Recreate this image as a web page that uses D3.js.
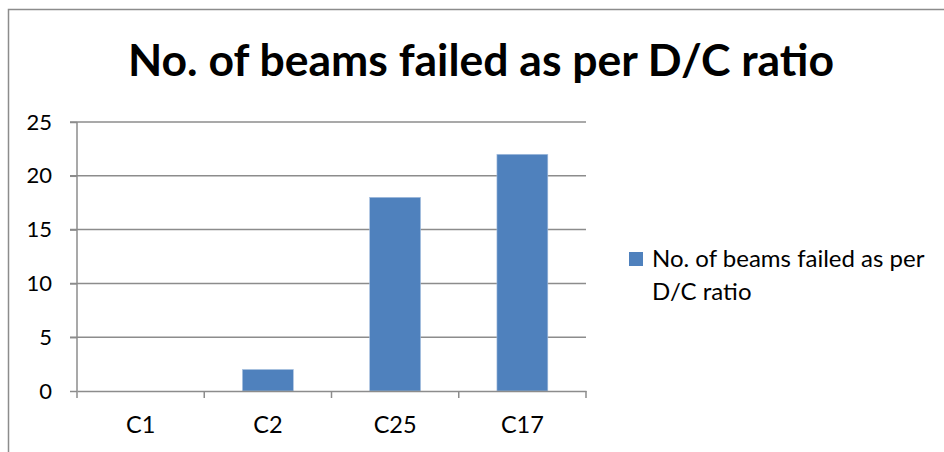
<!DOCTYPE html>
<html>
<head>
<meta charset="utf-8">
<script src="https://cdn.jsdelivr.net/npm/d3@7"></script>
<style>
  body { margin: 0; background: #fff; }
  text { font-family: Lato, "Open Sans", sans-serif; fill: #000; }
</style>
</head>
<body>
<svg class="chart" width="944" height="452"></svg>
<script>
let categories = ["C1", "C2", "C25", "C17"];
let values = [0, 2, 18, 22];
let yTicks = [0, 5, 10, 15, 20, 25];
let seriesName = "No. of beams failed as per D/C ratio";
let legendLines = ["No. of beams failed as per", "D/C ratio"];

let svg = d3.select("svg.chart"),
    margin = {top: 122, bottom: 61, left: 77, right: 358},
    width = svg.attr("width") - margin.left - margin.right,
    height = svg.attr("height") - margin.top - margin.bottom;

// chart border (runs off the right and bottom edge)
svg.append("rect")
    .attr("x", 8.5)
    .attr("y", 9.5)
    .attr("width", 1000)
    .attr("height", 1000)
    .attr("fill", "none")
    .attr("stroke", "#8c8c8c")
    .attr("stroke-width", 1.5);

let g = svg.append("g")
    .attr("transform", "translate(" + margin.left + "," + margin.top + ")");

let xScale = d3.scaleBand()
    .range([0, width])
    .domain(categories)
    .paddingInner(0.6)
    .paddingOuter(0.3);
let yScale = d3.scaleLinear()
    .range([height, 0])
    .domain([0, 25]);

// title
svg.append("text")
    .attr("x", 481)
    .attr("y", 76)
    .attr("text-anchor", "middle")
    .attr("font-size", "44.5px")
    .attr("font-weight", "bold")
    .text(seriesName);

// gridlines
g.selectAll(".grid")
    .data(yTicks.filter(d => d > 0))
    .join("line")
    .attr("class", "grid")
    .attr("x1", -7)
    .attr("x2", width)
    .attr("y1", d => yScale(d))
    .attr("y2", d => yScale(d))
    .attr("stroke", "#8c8c8c")
    .attr("stroke-width", 1.5);

// y axis
let yAxis = g.append("g")
    .call(d3.axisLeft(yScale).tickValues(yTicks).tickSize(7).tickPadding(18));
yAxis.selectAll("text")
    .attr("font-size", "22px")
    .attr("font-family", "Lato, sans-serif");

// x axis
let xAxis = g.append("g")
    .attr("transform", "translate(0," + height + ")")
    .call(d3.axisBottom(xScale).tickSize(0).tickPadding(25));
xAxis.selectAll("text")
    .attr("font-size", "23.5px")
    .attr("font-family", "Lato, sans-serif");
// category boundary ticks
xAxis.selectAll(".bound")
    .data(d3.range(categories.length + 1))
    .join("line")
    .attr("class", "bound")
    .attr("x1", i => i * xScale.step())
    .attr("x2", i => i * xScale.step())
    .attr("y1", 0)
    .attr("y2", 7)
    .attr("stroke", "#8c8c8c")
    .attr("stroke-width", 1.5);

svg.selectAll(".domain, .tick line")
    .attr("stroke", "#8c8c8c")
    .attr("stroke-width", 1.5);
yAxis.select(".domain").attr("d", "M0," + height + "V0");

// bars
g.selectAll(".bar")
    .data(values)
    .join("rect")
    .attr("class", "bar")
    .attr("x", (d, i) => xScale(categories[i]))
    .attr("y", d => yScale(d))
    .attr("width", xScale.bandwidth())
    .attr("height", d => height - yScale(d))
    .attr("fill", "#4f81bd")
    .attr("stroke", "#a9c1e0")
    .attr("stroke-width", 0.6);

xAxis.raise();

// legend
let legend = svg.append("g")
    .attr("transform", "translate(629,252)");
legend.append("rect")
    .attr("width", 14)
    .attr("height", 14)
    .attr("fill", "#4f81bd");
legend.selectAll("text")
    .data(legendLines)
    .join("text")
    .attr("x", 23)
    .attr("y", (d, i) => 15 + i * 33)
    .attr("font-size", "24px")
    .text(d => d);
</script>
</body>
</html>
